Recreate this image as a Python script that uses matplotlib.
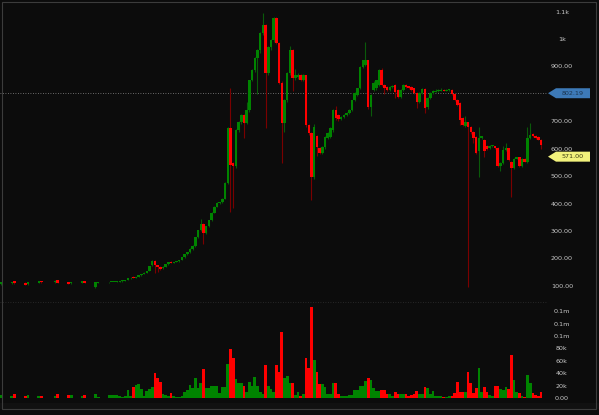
import matplotlib
matplotlib.use("Agg")
import matplotlib.pyplot as plt
from matplotlib.patches import Polygon, Rectangle
from matplotlib.transforms import blended_transform_factory
import numpy as np

# trading day index (gaps at the start of the series)
day = [0, 4, 5, 9, 10, 14, 15, 20, 21, 25, 26, 30, 31, 35, 36] + list(range(40, 201))

opens = [106, 109, 118, 112, 106, 112, 118, 113, 120, 114, 109, 112, 117, 95, 110,
         113, 114, 115, 115, 116, 117, 119, 122, 127, 132,
         128, 133, 138, 143, 148, 155, 176, 191, 176, 170,
         165, 170, 180, 188, 184, 187, 189, 195, 205, 215,
         224, 236, 246, 277, 303, 326, 293, 318, 340, 366,
         388, 402, 405, 417, 475, 675, 548, 536, 668, 697,
         723, 695, 741, 850, 887, 930, 960, 1022, 1050, 876,
         970, 996, 1076, 985, 840, 694, 777, 875, 960, 857,
         860, 868, 850, 868, 686, 657, 497, 645, 603, 585,
         607, 640, 643, 668, 741, 723, 707, 716, 723, 730,
         741, 777, 796, 821, 898, 905, 923, 752, 814, 821,
         832, 887, 832, 825, 814, 825, 832, 814, 789, 814,
         832, 828, 825, 820, 803, 770, 803, 818, 752, 785,
         803, 808, 810, 812, 815, 812, 813, 815, 800, 778,
         767, 712, 682, 697, 680, 661, 643, 590, 639, 632,
         610, 601, 610, 610, 603, 537, 548, 595, 601, 552,
         530, 564, 568, 537, 563, 550, 639, 653, 648, 643,
         632]

highs = [116, 116, 119, 113, 114, 119, 119, 120, 121, 115, 116, 118, 118, 114, 116,
         115, 116, 116, 117, 118, 120, 123, 128, 131, 136,
         134, 139, 144, 149, 156, 173, 193, 194, 178, 172,
         171, 181, 187, 190, 188, 190, 196, 206, 216, 225,
         238, 248, 279, 305, 345, 330, 320, 342, 368, 390,
         404, 407, 419, 478, 680, 821, 552, 672, 700, 728,
         727, 770, 852, 890, 935, 965, 1025, 1095, 1055, 975,
         1000, 1080, 1080, 990, 845, 780, 880, 975, 965, 890,
         875, 872, 872, 870, 690, 660, 690, 650, 606, 610,
         645, 660, 678, 745, 755, 725, 718, 725, 732, 743,
         779, 805, 823, 900, 925, 989, 925, 798, 845, 852,
         890, 895, 835, 828, 828, 833, 835, 816, 816, 835,
         835, 830, 828, 822, 806, 806, 822, 820, 787, 806,
         814, 818, 816, 820, 818, 817, 817, 817, 802, 780,
         769, 714, 720, 699, 682, 663, 645, 680, 648, 634,
         612, 612, 614, 611, 605, 550, 610, 620, 603, 554,
         566, 570, 570, 566, 565, 680, 694, 656, 650, 645,
         634]

lows = [104, 108, 108, 104, 105, 111, 112, 112, 111, 107, 108, 111, 111, 94, 109,
        112, 113, 114, 114, 115, 116, 118, 121, 126, 127,
        127, 132, 137, 142, 147, 154, 172, 147, 150, 158,
        163, 169, 178, 182, 183, 186, 188, 194, 203, 213,
        220, 231, 242, 275, 301, 252, 290, 315, 338, 364,
        386, 399, 403, 415, 470, 370, 385, 530, 660, 690,
        640, 690, 735, 845, 880, 800, 950, 1015, 675, 870,
        960, 990, 980, 835, 548, 660, 770, 870, 810, 850,
        855, 845, 845, 680, 650, 413, 490, 575, 580, 580,
        600, 635, 640, 660, 705, 700, 704, 713, 720, 727,
        738, 773, 793, 818, 895, 900, 745, 720, 810, 815,
        828, 828, 800, 810, 810, 820, 785, 786, 786, 810,
        822, 816, 810, 800, 750, 766, 800, 730, 745, 782,
        800, 805, 806, 809, 810, 809, 810, 797, 775, 755,
        688, 684, 680, 96, 655, 620, 580, 497, 636, 570,
        596, 598, 607, 598, 535, 520, 545, 592, 556, 424,
        527, 561, 535, 534, 550, 548, 636, 644, 637, 630,
        600]

closes = [114, 115, 110, 105, 113, 118, 113, 119, 112, 108, 115, 117, 112, 113, 115,
          114, 115, 115, 116, 117, 119, 122, 127, 130, 128,
          133, 138, 143, 148, 155, 172, 191, 176, 170, 163,
          170, 180, 186, 184, 187, 189, 195, 205, 215, 224,
          236, 246, 277, 303, 326, 293, 318, 340, 366, 388,
          402, 405, 417, 475, 675, 540, 536, 668, 697, 723,
          695, 741, 850, 887, 930, 960, 1022, 1050, 876, 970,
          996, 1076, 985, 840, 694, 777, 875, 960, 857, 868,
          868, 850, 868, 686, 657, 497, 679, 605, 585, 605,
          643, 657, 675, 741, 711, 707, 716, 723, 730, 741,
          777, 803, 821, 898, 923, 923, 752, 796, 838, 850,
          887, 832, 821, 814, 825, 830, 808, 789, 814, 832,
          825, 820, 814, 803, 770, 803, 818, 748, 785, 803,
          810, 812, 813, 815, 812, 814, 814, 800, 778, 760,
          705, 686, 697, 680, 661, 640, 585, 639, 645, 592,
          599, 610, 612, 601, 537, 548, 595, 603, 559, 530,
          564, 568, 537, 564, 552, 639, 650, 647, 640, 632,
          613]

# volume in thousands
volume_k = [4, 3, 6, 3, 5, 3, 3, 3, 6, 4, 4, 3, 4, 6, 2,
            5, 5, 5, 5, 3, 2, 3, 13, 3, 18,
            21, 23, 15, 3, 12, 15, 18, 41, 32, 26,
            7, 5, 3, 8, 3, 2, 2, 3, 10, 13,
            21, 16, 32, 16, 24, 47, 16, 16, 19, 19,
            19, 8, 18, 18, 55, 79, 64, 31, 24, 24,
            19, 10, 26, 19, 34, 19, 10, 6, 53, 19,
            14, 10, 53, 42, 106, 32, 35, 24, 24, 5,
            10, 3, 6, 64, 48, 147, 61, 42, 22, 22,
            18, 6, 6, 24, 24, 6, 3, 3, 3, 5,
            5, 13, 13, 19, 19, 27, 32, 29, 16, 11,
            11, 13, 13, 6, 6, 3, 10, 6, 6, 6,
            6, 3, 5, 6, 11, 6, 6, 18, 16, 6,
            11, 3, 3, 3, 2, 2, 3, 3, 8, 26,
            10, 10, 9, 42, 24, 8, 16, 48, 10, 18,
            10, 5, 3, 19, 19, 15, 13, 18, 15, 69,
            29, 10, 8, 3, 2, 37, 24, 8, 5, 3,
            10]

last_price = 802.19
marker_price = 571.00
price_ticks = [100, 200, 300, 400, 500, 600, 700, 800, 900, 1000, 1100]
price_labels = ["100.00", "200.00", "300.00", "400.00", "500.00", "600.00",
                "700.00", "", "900.00", "1k", "1.1k"]
vol_ticks = [0, 20000, 40000, 60000, 80000, 100000, 120000, 140000]
vol_labels = ["0.00", "20k", "40k", "60k", "80k", "0.1m", "0.1m", "0.1m"]

BG = "#0c0c0c"
UP, DOWN = "#008400", "#ff0000"
UP_WICK, DOWN_WICK = "#0a5a0a", "#7a0000"
TXT = "#c8c8c8"

x = np.array(day)
o = np.array(opens, dtype=float)
h = np.array(highs, dtype=float)
l = np.array(lows, dtype=float)
c = np.array(closes, dtype=float)
v = np.array(volume_k, dtype=float) * 1000
up = c >= o

W, H = 599, 415
fig = plt.figure(figsize=(W / 100, H / 100), dpi=100, facecolor=BG)
ax = fig.add_axes([0, 1 - 301 / H, 548 / W, 298 / H], facecolor=BG)
axv = fig.add_axes([0, 1 - 402 / H, 548 / W, 100 / H], facecolor=BG, sharex=ax)

# candles
ax.vlines(x[up], l[up], h[up], color=UP_WICK, lw=0.8, zorder=2)
ax.vlines(x[~up], l[~up], h[~up], color=DOWN_WICK, lw=0.8, zorder=2)
body = np.maximum(np.abs(c - o), 3)
ax.bar(x, body, bottom=np.minimum(o, c), width=0.95,
       color=np.where(up, UP, DOWN), linewidth=0, zorder=3)

ax.axhline(last_price, color="#8a8a8a", lw=0.6, ls=(0, (1, 2)), zorder=1)

# volume
axv.bar(x, v, width=1.0, color=np.where(up, UP, DOWN), linewidth=0)

ax.set_xlim(-0.37, 202.6)
ax.set_ylim(45, 1131)
axv.set_ylim(-6500, 154800)
axv.axhline(154000, color="#303030", lw=0.6, ls=(0, (1, 2)))

for a, ticks, labels in ((ax, price_ticks, price_labels), (axv, vol_ticks, vol_labels)):
    a.yaxis.tick_right()
    a.set_yticks(ticks)
    a.set_yticklabels(labels)
    a.tick_params(axis="y", length=0, pad=10, labelsize=4.6, labelcolor=TXT)
    a.tick_params(axis="x", bottom=False, labelbottom=False)
    for lab in a.get_yticklabels():
        lab.set_horizontalalignment("center")
    for s in a.spines.values():
        s.set_visible(False)

# price flags on the right
tr = blended_transform_factory(ax.transAxes, ax.transData)
dx_tip = 8 / 548
dx_end = 42 / 548
half = 5 / 0.2745
for price, fill, tcol in ((last_price, "#3d7ab8", "#1b3550"),
                          (marker_price, "#f2f27c", "#3a3a10")):
    pts = [(1.0, price), (1 + dx_tip, price + half), (1 + dx_end, price + half),
           (1 + dx_end, price - half), (1 + dx_tip, price - half)]
    ax.add_patch(Polygon(pts, closed=True, transform=tr, facecolor=fill,
                         edgecolor="none", clip_on=False, zorder=5))
    ax.text(1 + (dx_tip + dx_end) / 2, price, f"{price:.2f}", transform=tr,
            ha="center", va="center", fontsize=4.6, color=tcol, zorder=6)

# outer frame and bottom strip
fig.patches.append(Rectangle((0, 1 - 409 / H), 1, 6 / H, transform=fig.transFigure,
                             facecolor="#111111", edgecolor="none", zorder=0))
fig.patches.append(Rectangle((2 / W, 6 / H), 594 / W, 407 / H, transform=fig.transFigure,
                             facecolor="none", edgecolor="#3c3c3c", lw=0.8))

fig.savefig("out.png", dpi=100, facecolor=BG)
